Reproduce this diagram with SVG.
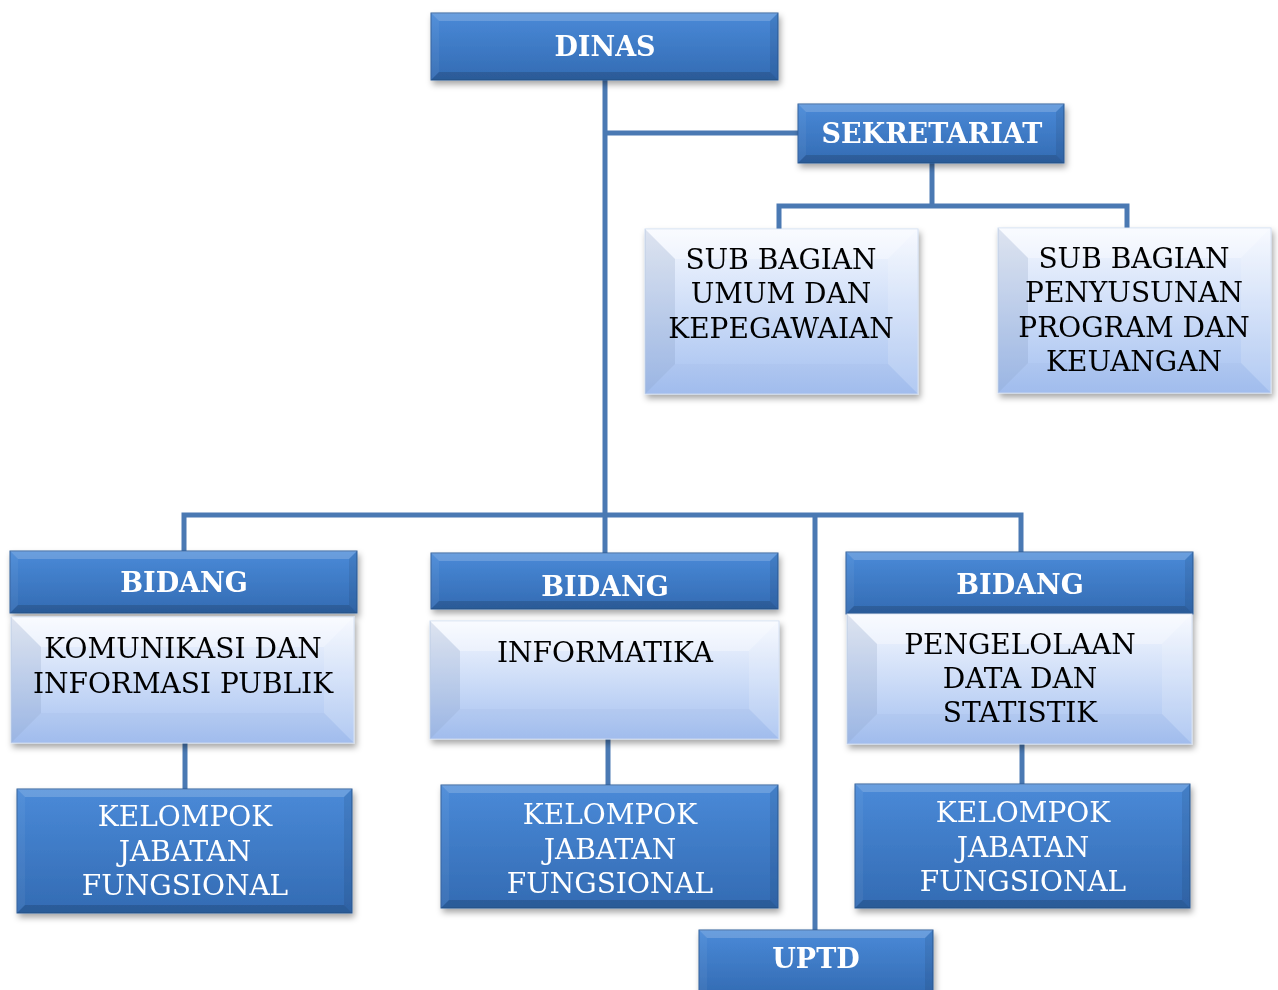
<svg xmlns="http://www.w3.org/2000/svg" width="1278" height="990" viewBox="0 0 1278 990">
<defs>
<linearGradient id="gDark" x1="0" y1="0" x2="0" y2="1">
<stop offset="0" stop-color="#4a8ad8"/>
<stop offset="1" stop-color="#336bb3"/>
</linearGradient>
<linearGradient id="gLight" x1="0" y1="0" x2="0" y2="1">
<stop offset="0" stop-color="#f6f9ff"/>
<stop offset="1" stop-color="#a4c0f0"/>
</linearGradient>
<filter id="sh" x="-10%" y="-10%" width="120%" height="130%">
<feDropShadow dx="2" dy="4" stdDeviation="3" flood-color="#000" flood-opacity="0.35"/>
</filter>
</defs>
<style>
.dark{fill:url(#gDark);stroke:#2f5d99;stroke-width:1}
.light{fill:url(#gLight);stroke:#d0ddf2;stroke-width:1}
.bt{fill:#fff;fill-opacity:0.18}
.bb{fill:#000;fill-opacity:0.15}
.bl{fill:#fff;fill-opacity:0.05}
.br{fill:#000;fill-opacity:0.08}
.lt{fill:#fff;fill-opacity:0.35}
.ll{fill:#6d86ad;fill-opacity:0.18}
.lr{fill:#fff;fill-opacity:0.15}
.lb{fill:#7b9ad0;fill-opacity:0.08}
.tb{font-family:"DejaVu Serif","Liberation Serif",serif;font-weight:bold;font-size:27px;fill:#fff;text-anchor:middle}
.tw{font-family:"DejaVu Serif","Liberation Serif",serif;font-size:28px;fill:#fff;text-anchor:middle}
.tk{font-family:"DejaVu Serif","Liberation Serif",serif;font-size:28px;fill:#000;text-anchor:middle}
.con{fill:none;stroke:#4a79b3;stroke-width:5}
</style>

<g id="connectors">
<path class="con" d="M605 80 V553"/>
<path class="con" d="M605 133 H798"/>
<path class="con" d="M932 163 V206"/>
<path class="con" d="M779 229 V206 H1127 V228"/>
<path class="con" d="M184 551 V515 H1021 V552"/>
<path class="con" d="M815 515 V930"/>
<path class="con" d="M185 743 V789"/>
<path class="con" d="M608 739 V785"/>
<path class="con" d="M1022 744 V784"/>
</g>

<g id="dinas" filter="url(#sh)">
<rect class="dark" x="431" y="13" width="347" height="67"/>
<polygon class="bt" points="431,13 778,13 770,21 439,21"/>
<polygon class="bb" points="431,80 778,80 770,72 439,72"/>
<polygon class="bl" points="431,13 439,21 439,72 431,80"/>
<polygon class="br" points="778,13 770,21 770,72 778,80"/>
<text class="tb" x="605" y="56">DINAS</text>
</g>

<g id="sekretariat" filter="url(#sh)">
<rect class="dark" x="798" y="104" width="266" height="59"/>
<polygon class="bt" points="798,104 1064,104 1056,112 806,112"/>
<polygon class="bb" points="798,163 1064,163 1056,155 806,155"/>
<polygon class="bl" points="798,104 806,112 806,155 798,163"/>
<polygon class="br" points="1064,104 1056,112 1056,155 1064,163"/>
<text class="tb" x="932" y="143">SEKRETARIAT</text>
</g>

<g id="sub-umum" filter="url(#sh)">
<rect class="light" x="645" y="229" width="273" height="165"/>
<polygon class="lt" points="645,229 918,229 888,259 675,259"/>
<polygon class="ll" points="645,229 675,259 675,364 645,394"/>
<polygon class="lr" points="918,229 888,259 888,364 918,394"/>
<polygon class="lb" points="645,394 675,364 888,364 918,394"/>
<text class="tk" x="781" y="269">SUB BAGIAN</text>
<text class="tk" x="781" y="303">UMUM DAN</text>
<text class="tk" x="781" y="338">KEPEGAWAIAN</text>
</g>

<g id="sub-penyusunan" filter="url(#sh)">
<rect class="light" x="998" y="228" width="273" height="165"/>
<polygon class="lt" points="998,228 1271,228 1241,258 1028,258"/>
<polygon class="ll" points="998,228 1028,258 1028,363 998,393"/>
<polygon class="lr" points="1271,228 1241,258 1241,363 1271,393"/>
<polygon class="lb" points="998,393 1028,363 1241,363 1271,393"/>
<text class="tk" x="1134" y="268">SUB BAGIAN</text>
<text class="tk" x="1134" y="302">PENYUSUNAN</text>
<text class="tk" x="1134" y="337">PROGRAM DAN</text>
<text class="tk" x="1134" y="371">KEUANGAN</text>
</g>

<g id="bidang-kip" filter="url(#sh)">
<rect class="dark" x="10" y="551" width="347" height="62"/>
<polygon class="bt" points="10,551 357,551 349,559 18,559"/>
<polygon class="bb" points="10,613 357,613 349,605 18,605"/>
<polygon class="bl" points="10,551 18,559 18,605 10,613"/>
<polygon class="br" points="357,551 349,559 349,605 357,613"/>
<text class="tb" x="184" y="592">BIDANG</text>
<rect class="light" x="11" y="617" width="343" height="126"/>
<polygon class="lt" points="11,617 354,617 324,647 41,647"/>
<polygon class="ll" points="11,617 41,647 41,713 11,743"/>
<polygon class="lr" points="354,617 324,647 324,713 354,743"/>
<polygon class="lb" points="11,743 41,713 324,713 354,743"/>
<text class="tk" x="183" y="658">KOMUNIKASI DAN</text>
<text class="tk" x="183" y="693">INFORMASI PUBLIK</text>
</g>

<g id="bidang-informatika" filter="url(#sh)">
<rect class="dark" x="431" y="553" width="347" height="56"/>
<polygon class="bt" points="431,553 778,553 770,561 439,561"/>
<polygon class="bb" points="431,609 778,609 770,601 439,601"/>
<polygon class="bl" points="431,553 439,561 439,601 431,609"/>
<polygon class="br" points="778,553 770,561 770,601 778,609"/>
<text class="tb" x="605" y="596">BIDANG</text>
<rect class="light" x="430" y="621" width="349" height="118"/>
<polygon class="lt" points="430,621 779,621 749,651 460,651"/>
<polygon class="ll" points="430,621 460,651 460,709 430,739"/>
<polygon class="lr" points="779,621 749,651 749,709 779,739"/>
<polygon class="lb" points="430,739 460,709 749,709 779,739"/>
<text class="tk" x="605" y="662">INFORMATIKA</text>
</g>

<g id="bidang-pds" filter="url(#sh)">
<rect class="dark" x="846" y="552" width="347" height="62"/>
<polygon class="bt" points="846,552 1193,552 1185,560 854,560"/>
<polygon class="bb" points="846,614 1193,614 1185,606 854,606"/>
<polygon class="bl" points="846,552 854,560 854,606 846,614"/>
<polygon class="br" points="1193,552 1185,560 1185,606 1193,614"/>
<text class="tb" x="1020" y="594">BIDANG</text>
<rect class="light" x="847" y="614" width="345" height="130"/>
<polygon class="lt" points="847,614 1192,614 1162,644 877,644"/>
<polygon class="ll" points="847,614 877,644 877,714 847,744"/>
<polygon class="lr" points="1192,614 1162,644 1162,714 1192,744"/>
<polygon class="lb" points="847,744 877,714 1162,714 1192,744"/>
<text class="tk" x="1020" y="654">PENGELOLAAN</text>
<text class="tk" x="1020" y="688">DATA DAN</text>
<text class="tk" x="1020" y="722">STATISTIK</text>
</g>

<g id="kjf-kip" filter="url(#sh)">
<rect class="dark" x="17" y="789" width="335" height="124"/>
<polygon class="bt" points="17,789 352,789 344,797 25,797"/>
<polygon class="bb" points="17,913 352,913 344,905 25,905"/>
<polygon class="bl" points="17,789 25,797 25,905 17,913"/>
<polygon class="br" points="352,789 344,797 344,905 352,913"/>
<text class="tw" x="185" y="826">KELOMPOK</text>
<text class="tw" x="185" y="861">JABATAN</text>
<text class="tw" x="185" y="895">FUNGSIONAL</text>
</g>

<g id="kjf-informatika" filter="url(#sh)">
<rect class="dark" x="441" y="785" width="337" height="123"/>
<polygon class="bt" points="441,785 778,785 770,793 449,793"/>
<polygon class="bb" points="441,908 778,908 770,900 449,900"/>
<polygon class="bl" points="441,785 449,793 449,900 441,908"/>
<polygon class="br" points="778,785 770,793 770,900 778,908"/>
<text class="tw" x="610" y="824">KELOMPOK</text>
<text class="tw" x="610" y="859">JABATAN</text>
<text class="tw" x="610" y="893">FUNGSIONAL</text>
</g>

<g id="kjf-pds" filter="url(#sh)">
<rect class="dark" x="855" y="784" width="335" height="124"/>
<polygon class="bt" points="855,784 1190,784 1182,792 863,792"/>
<polygon class="bb" points="855,908 1190,908 1182,900 863,900"/>
<polygon class="bl" points="855,784 863,792 863,900 855,908"/>
<polygon class="br" points="1190,784 1182,792 1182,900 1190,908"/>
<text class="tw" x="1023" y="822">KELOMPOK</text>
<text class="tw" x="1023" y="857">JABATAN</text>
<text class="tw" x="1023" y="891">FUNGSIONAL</text>
</g>

<g id="uptd" filter="url(#sh)">
<rect class="dark" x="699" y="930" width="234" height="66"/>
<polygon class="bt" points="699,930 933,930 925,938 707,938"/>
<polygon class="bl" points="699,930 707,938 707,996 699,996"/>
<polygon class="br" points="933,930 925,938 925,996 933,996"/>
<text class="tb" x="816" y="968">UPTD</text>
</g>
</svg>
